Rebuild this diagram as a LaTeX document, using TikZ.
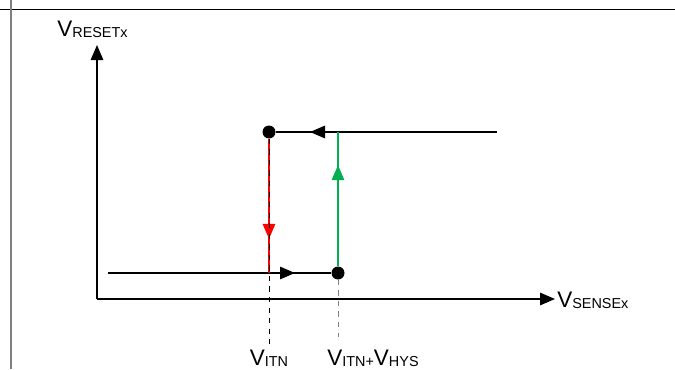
\documentclass[tikz,border=0pt]{standalone}
\usepackage{fontspec}
\setmainfont{Liberation Sans}
\usepackage{tikz}
\usetikzlibrary{calc,arrows.meta,decorations.markings}

\definecolor{hysgreen}{RGB}{0,176,80}
\definecolor{framegray}{RGB}{128,128,128}
\newcommand{\volt}[1]{{\fontsize{12.8}{15}\selectfont V}\raisebox{-0.6pt}{\fontsize{8.2}{9}\selectfont #1}}

\tikzset{
	tip/.style={-{Triangle[length=0.3cm,width=0.25cm]}},
	axis/.style={line width=0.8pt,tip},
	level/.style={line width=0.8pt},
	dot/.style={circle,fill=black,inner sep=0pt,minimum size=0.26cm},
	midarrow/.style={postaction={decorate},decoration={markings,
		mark=at position #1 with {\arrow{Triangle[length=0.3cm,width=0.25cm]}}}},
	guide/.style={dashed,line width=0.5pt},
	lbl/.style={inner sep=0pt}
}

\begin{document}
\begin{tikzpicture}
	\newcommand{\itnX}{5.38}
	\newcommand{\hysX}{6.76}
	\newcommand{\highY}{4.74}
	\newcommand{\lowY}{1.92}

	\useasboundingbox (0,0) rectangle (13.5,7.38);

	% table border
	\draw[line width=0.8pt] (0,7.19) -- (13.5,7.19);
	\draw[framegray,line width=1pt] (0.22,0) -- (0.22,7.38);

	\coordinate (origo) at (1.94,1.40);
	\coordinate (y_tip) at (1.94,6.48);
	\coordinate (x_tip) at (11.10,1.40);

	\coordinate (high_end) at (9.94,\highY);
	\coordinate (low_start) at (2.16,\lowY);
	\coordinate (itn_low) at (\itnX,\lowY);
	\coordinate (hys_high) at (\hysX,\highY);
	\coordinate (itn_foot) at (\itnX,0.48);
	\coordinate (hys_foot) at (\hysX,0.64);

	\node[dot] (itn_high) at (\itnX,\highY) {};
	\node[dot] (hys_low) at (\hysX,\lowY) {};

	% draw axes
	\draw[axis] (origo) -- (y_tip);
	\draw[axis] (origo) -- (x_tip);
	\node[lbl,anchor=base west] (v_reset) at (1.14,6.66) {\volt{RESETx}};
	\node[lbl,anchor=west] (v_sense) at ($(x_tip)+(0.04,-0.02)$) {\volt{SENSEx}};

	% hysteresis loop
	\draw[level,midarrow=3.74cm] (high_end) -- (itn_high);
	\draw[level,midarrow=3.74cm] (low_start) -- (hys_low);
	\draw[red,line width=0.8pt,midarrow=2.0cm] (itn_high) -- (itn_low);
	\draw[hysgreen,line width=0.8pt,midarrow=2.02cm] (hys_low) -- (hys_high);

	% thresholds
	\draw[guide] (itn_high) -- (itn_foot);
	\draw[guide,framegray] (hys_low) -- (hys_foot);
	\node[lbl] (v_itn) at (\itnX,0.22) {\volt{ITN}};
	\node[lbl,anchor=west] (v_hys) at (6.54,0.22) {\volt{ITN+}\volt{HYS}};
\end{tikzpicture}
\end{document}
